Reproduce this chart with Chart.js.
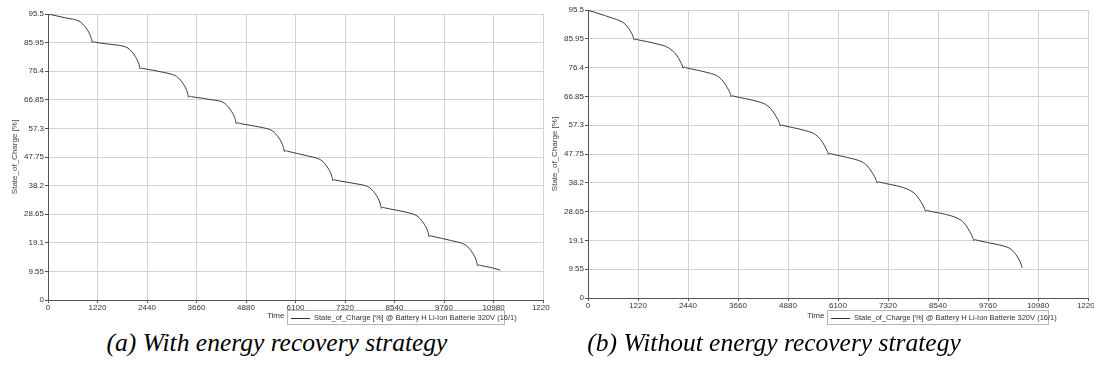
<!DOCTYPE html>
<html>
<head>
    <title>State of Charge comparison</title>
    <script src="https://cdn.jsdelivr.net/npm/chart.js@4.4.1/dist/chart.umd.min.js"></script>
    <style>
        body {
            margin: 0;
            background: #fff;
            width: 1094px;
            height: 365px;
            position: relative;
            overflow: hidden;
            font-family: "Liberation Sans", Arial, sans-serif;
        }
        .panel {
            position: absolute;
            top: 0;
        }
        .time {
            position: absolute;
            font-size: 8px;
            color: #333;
        }
        .legend {
            position: absolute;
            height: 13px;
            border: 1px solid #b5b5b5;
            font-size: 7.5px;
            color: #333;
            line-height: 13px;
            white-space: nowrap;
        }
        .legend span.line {
            display: inline-block;
            width: 19px;
            height: 1px;
            background: #333;
            vertical-align: middle;
            margin: 0 4px 0 3px;
        }
        .caption {
            position: absolute;
            top: 328px;
            font-family: "Liberation Serif", "Times New Roman", serif;
            font-style: italic;
            font-size: 25.5px;
            color: #000;
            white-space: nowrap;
            transform: translateX(-50%);
        }
    </style>
</head>
<body>
    <div class="panel" style="left:0px"><canvas id="chartA" width="550" height="320"></canvas></div>
    <div class="panel" style="left:540px"><canvas id="chartB" width="554" height="320"></canvas></div>

    <div class="time" style="left:267px; top:311px">Time</div>
    <div class="legend" style="left:287px; top:310px; width:216px"><span class="line"></span>State_of_Charge [%] @ Battery H Li-Ion Batterie 320V (16/1)</div>
    <div class="time" style="left:807px; top:311px">Time</div>
    <div class="legend" style="left:827px; top:310px; width:220px"><span class="line"></span>State_of_Charge [%] @ Battery H Li-Ion Batterie 320V (16/1)</div>

    <div class="caption" style="left:277px">(a) With energy recovery strategy</div>
    <div class="caption" style="left:774px">(b) Without energy recovery strategy</div>

    <script>
        // axis ticks
        const xTicks = [0, 1220, 2440, 3660, 4880, 6100, 7320, 8540, 9760, 10980, 12200];
        const yTicks = [0, 9.55, 19.1, 28.65, 38.2, 47.75, 57.3, 66.85, 76.4, 85.95, 95.5];

        // (a) with energy recovery
        const timeA = [0, 200, 400, 600, 694, 794, 894, 974, 1034, 1069, 1094, 1119, 1164,
            1400, 1650, 1872, 1972, 2072, 2152, 2212, 2247, 2272, 2297, 2342,
            2600, 2850, 3066, 3166, 3266, 3346, 3406, 3441, 3466, 3491, 3536,
            3800, 4000, 4243, 4343, 4443, 4523, 4583, 4618, 4643, 4668, 4713,
            4950, 5200, 5429, 5529, 5629, 5709, 5769, 5804, 5829, 5854, 5899,
            6150, 6400, 6623, 6723, 6823, 6903, 6963, 6998, 7023, 7048, 7093,
            7350, 7600, 7818, 7918, 8018, 8098, 8158, 8193, 8218, 8243, 8288,
            8550, 8800, 8994, 9094, 9194, 9274, 9334, 9369, 9394, 9419, 9464,
            9700, 9950, 10190, 10290, 10390, 10470, 10530, 10565, 10590, 10615, 10660, 10900, 11150];
        const socA = [95.5, 94.9, 94.3, 93.8, 93.5, 92.9, 91.6, 90.1, 88.6, 87.3, 85.9, 86.3, 86.1,
            85.6, 85.2, 84.7, 84.1, 82.8, 81.3, 79.8, 78.5, 77.1, 77.5, 77.3,
            76.7, 76.0, 75.3, 74.7, 73.4, 71.9, 70.4, 69.1, 67.7, 68.1, 67.9,
            67.4, 66.9, 66.4, 65.8, 64.5, 63.0, 61.5, 60.2, 58.8, 59.2, 59.0,
            58.4, 57.8, 57.1, 56.5, 55.2, 53.7, 52.2, 50.9, 49.5, 49.9, 49.7,
            48.9, 48.1, 47.4, 46.8, 45.5, 44.0, 42.5, 41.2, 39.8, 40.2, 40.0,
            39.4, 38.8, 38.2, 37.6, 36.3, 34.8, 33.3, 32.0, 30.6, 31.0, 30.8,
            30.1, 29.4, 28.7, 28.1, 26.8, 25.3, 23.8, 22.5, 21.1, 21.5, 21.3,
            20.6, 19.8, 19.0, 18.4, 17.1, 15.6, 14.1, 12.8, 11.35, 11.75, 11.55, 10.9, 10.0];

        // (b) without energy recovery
        const timeB = [0, 200, 400, 600, 780, 900, 980, 1065, 1100, 1130, 1150, 1190,
            1450, 1700, 1920, 2050, 2173, 2258, 2293, 2323, 2343, 2383,
            2650, 2900, 3130, 3250, 3352, 3437, 3472, 3502, 3522, 3562,
            3850, 4100, 4330, 4450, 4549, 4634, 4669, 4699, 4719, 4759,
            5000, 5250, 5500, 5620, 5723, 5808, 5843, 5873, 5893, 5933,
            6200, 6450, 6690, 6810, 6908, 6993, 7028, 7058, 7078, 7118,
            7400, 7650, 7870, 7990, 8090, 8175, 8210, 8240, 8260, 8300,
            8600, 8850, 9050, 9170, 9268, 9353, 9388, 9418, 9438, 9478,
            9750, 10000, 10200, 10297, 10400, 10480, 10540, 10597];
        const socB = [95.4, 94.6, 93.7, 92.8, 91.9, 90.9, 89.6, 87.8, 86.7, 85.5, 85.9, 85.7,
            85.0, 84.2, 83.3, 82.1, 80.3, 78.3, 77.3, 76.2, 76.6, 76.4,
            75.6, 74.8, 73.8, 72.6, 70.8, 68.8, 67.8, 66.7, 67.1, 66.9,
            66.1, 65.3, 64.2, 62.9, 61.1, 59.1, 58.1, 57.0, 57.4, 57.2,
            56.5, 55.7, 54.6, 53.4, 51.6, 49.6, 48.6, 47.6, 48.0, 47.8,
            47.0, 46.2, 45.1, 43.9, 42.1, 40.2, 39.2, 38.2, 38.6, 38.4,
            37.6, 36.8, 35.6, 34.4, 32.6, 30.7, 29.7, 28.7, 29.1, 28.9,
            28.1, 27.3, 26.2, 25.0, 23.1, 21.1, 20.1, 19.0, 19.4, 19.2,
            18.4, 17.7, 17.0, 16.4, 15.1, 13.6, 12.1, 10.05];

        const tickFont = { family: 'Liberation Sans', size: 8 };

        function makeChart(id, times, values, padTop, padRight, xHeight) {
            const points = times.map((t, i) => ({ x: t, y: values[i] }));
            return new Chart(document.getElementById(id), {
                type: 'line',
                data: {
                    datasets: [{
                        data: points,
                        borderColor: '#3a3a3a',
                        borderWidth: 1,
                        pointRadius: 0,
                        cubicInterpolationMode: 'monotone',
                        fill: false
                    }]
                },
                options: {
                    responsive: false,
                    animation: false,
                    devicePixelRatio: 1,
                    layout: { padding: { top: padTop, right: padRight, left: 0, bottom: 0 } },
                    plugins: {
                        legend: { display: false },
                        tooltip: { enabled: false }
                    },
                    scales: {
                        x: {
                            type: 'linear',
                            min: 0,
                            max: 12200,
                            afterBuildTicks: s => { s.ticks = xTicks.map(v => ({ value: v })); },
                            afterFit: s => { s.height = xHeight; s.paddingLeft = 0; s.paddingRight = 0; },
                            ticks: {
                                autoSkip: false,
                                maxRotation: 0,
                                font: tickFont,
                                color: '#333',
                                padding: 0,
                                callback: v => String(v)
                            },
                            grid: { color: '#d3d3d3', tickColor: '#555', tickLength: 3 },
                            border: { color: '#555' }
                        },
                        y: {
                            min: 0,
                            max: 95.5,
                            afterBuildTicks: s => { s.ticks = yTicks.map(v => ({ value: v })); },
                            afterFit: s => { s.width = 48; s.paddingTop = 0; s.paddingBottom = 0; },
                            ticks: {
                                font: tickFont,
                                color: '#333',
                                padding: 1,
                                callback: v => String(v)
                            },
                            grid: { color: '#d3d3d3', tickColor: '#555', tickLength: 3 },
                            border: { color: '#555' },
                            title: {
                                display: true,
                                text: 'State_of_Charge [%]',
                                font: { family: 'Liberation Sans', size: 8 },
                                color: '#444',
                                padding: { top: 10, bottom: 0 }
                            }
                        }
                    }
                }
            });
        }

        makeChart('chartA', timeA, socA, 14, 7, 20);
        makeChart('chartB', timeB, socB, 10, 6, 22);
    </script>
</body>
</html>
